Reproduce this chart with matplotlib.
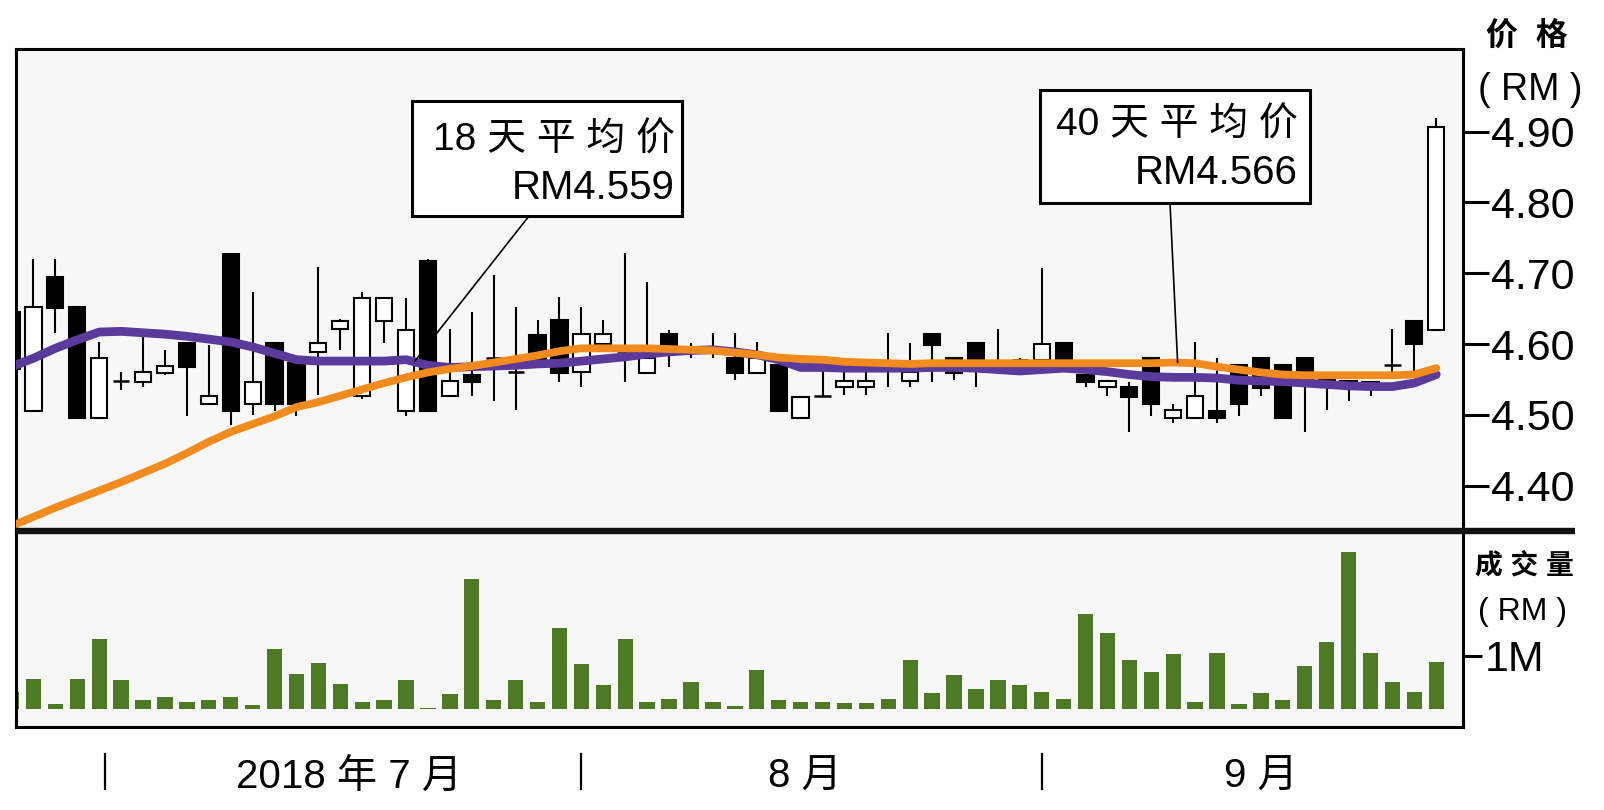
import matplotlib
matplotlib.use("Agg")
import matplotlib.pyplot as plt
from matplotlib.patches import Rectangle
from matplotlib.lines import Line2D

plt.rcParams['font.family'] = ['Liberation Sans', 'Noto Sans CJK SC', 'DejaVu Sans']

# ---------------- data ----------------
opens = [4.645, 4.505, 4.695, 4.653, 4.495, 4.548, 4.547, 4.559, 4.601, 4.516,
         4.727, 4.516, 4.601, 4.573, 4.589, 4.621, 4.526, 4.632, 4.505, 4.717,
         4.526, 4.556, 4.580, 4.560, 4.613, 4.634, 4.560, 4.600, 4.590, 4.559,
         4.614, 4.590, 4.595, 4.580, 4.559, 4.570, 4.495, 4.526, 4.540, 4.540,
         4.575, 4.548, 4.614, 4.580, 4.601, 4.575, 4.577, 4.578, 4.601, 4.556,
         4.539, 4.539, 4.580, 4.496, 4.496, 4.506, 4.570, 4.580, 4.570, 4.580,
         4.550, 4.548, 4.547, 4.570, 4.633, 4.620]
closes = [4.565, 4.653, 4.651, 4.495, 4.580, 4.548, 4.560, 4.569, 4.568, 4.526,
          4.505, 4.547, 4.516, 4.516, 4.601, 4.633, 4.665, 4.665, 4.620, 4.505,
          4.548, 4.547, 4.580, 4.560, 4.573, 4.559, 4.614, 4.614, 4.590, 4.580,
          4.595, 4.590, 4.595, 4.559, 4.580, 4.505, 4.525, 4.526, 4.548, 4.548,
          4.575, 4.560, 4.599, 4.559, 4.574, 4.575, 4.577, 4.600, 4.574, 4.547,
          4.548, 4.525, 4.516, 4.507, 4.526, 4.495, 4.516, 4.538, 4.495, 4.549,
          4.547, 4.546, 4.545, 4.570, 4.600, 4.907]
highs = [4.645, 4.720, 4.720, 4.653, 4.603, 4.561, 4.613, 4.592, 4.601, 4.599,
         4.727, 4.674, 4.601, 4.573, 4.709, 4.636, 4.674, 4.665, 4.665, 4.720,
         4.622, 4.646, 4.698, 4.653, 4.634, 4.667, 4.653, 4.634, 4.728, 4.688,
         4.620, 4.601, 4.615, 4.615, 4.603, 4.575, 4.525, 4.566, 4.560, 4.561,
         4.615, 4.601, 4.614, 4.580, 4.601, 4.622, 4.580, 4.708, 4.601, 4.556,
         4.548, 4.547, 4.582, 4.516, 4.603, 4.580, 4.570, 4.580, 4.570, 4.580,
         4.550, 4.548, 4.547, 4.622, 4.633, 4.919]
lows = [4.565, 4.505, 4.615, 4.495, 4.495, 4.535, 4.540, 4.557, 4.498, 4.516,
        4.486, 4.500, 4.505, 4.498, 4.528, 4.592, 4.523, 4.601, 4.498, 4.505,
        4.526, 4.526, 4.519, 4.507, 4.570, 4.547, 4.540, 4.590, 4.547, 4.559,
        4.568, 4.580, 4.580, 4.549, 4.559, 4.505, 4.495, 4.526, 4.528, 4.528,
        4.540, 4.540, 4.547, 4.549, 4.540, 4.573, 4.573, 4.575, 4.574, 4.540,
        4.526, 4.476, 4.498, 4.488, 4.496, 4.488, 4.498, 4.526, 4.495, 4.476,
        4.507, 4.519, 4.526, 4.556, 4.561, 4.620]

ma18 = [4.568, 4.580, 4.594, 4.606, 4.617, 4.618, 4.616, 4.614, 4.611, 4.607,
        4.603, 4.596, 4.587, 4.578, 4.576, 4.576, 4.576, 4.576, 4.578, 4.570,
        4.567, 4.568, 4.569, 4.570, 4.572, 4.573, 4.576, 4.579, 4.582, 4.586,
        4.589, 4.591, 4.592, 4.589, 4.585, 4.578, 4.567, 4.567, 4.566, 4.566,
        4.566, 4.566, 4.567, 4.567, 4.566, 4.564, 4.562, 4.564, 4.566, 4.564,
        4.561, 4.557, 4.554, 4.553, 4.553, 4.552, 4.549, 4.548, 4.547, 4.545,
        4.543, 4.541, 4.540, 4.540, 4.545, 4.557]
ma40 = [4.343, 4.356, 4.369, 4.381, 4.393, 4.405, 4.418, 4.431, 4.446, 4.462,
        4.476, 4.487, 4.498, 4.511, 4.518, 4.527, 4.536, 4.545, 4.553, 4.560,
        4.565, 4.569, 4.574, 4.579, 4.584, 4.590, 4.594, 4.594, 4.594, 4.594,
        4.593, 4.592, 4.591, 4.588, 4.585, 4.581, 4.579, 4.578, 4.575, 4.574,
        4.573, 4.572, 4.573, 4.573, 4.573, 4.573, 4.573, 4.573, 4.573, 4.573,
        4.573, 4.573, 4.573, 4.574, 4.573, 4.568, 4.564, 4.560, 4.557, 4.556,
        4.556, 4.556, 4.556, 4.556, 4.557, 4.566]

volume_m = [0.31, 0.57, 0.09, 0.56, 1.32, 0.55, 0.17, 0.22, 0.14, 0.17,
            0.22, 0.08, 1.12, 0.65, 0.87, 0.46, 0.14, 0.17, 0.55, 0.02,
            0.28, 2.44, 0.17, 0.55, 0.13, 1.52, 0.85, 0.45, 1.32, 0.14,
            0.19, 0.50, 0.14, 0.05, 0.73, 0.17, 0.14, 0.14, 0.11, 0.11,
            0.19, 0.91, 0.30, 0.63, 0.37, 0.55, 0.45, 0.32, 0.19, 1.78,
            1.43, 0.92, 0.69, 1.03, 0.14, 1.06, 0.09, 0.30, 0.17, 0.81,
            1.25, 2.94, 1.06, 0.51, 0.32, 0.88]

price_ticks = [4.40, 4.50, 4.60, 4.70, 4.80, 4.90]
price_tick_labels = ['4.40', '4.50', '4.60', '4.70', '4.80', '4.90']
volume_ticks = [1.0]
volume_tick_labels = ['1M']
month_labels = ['2018 年 7 月', '8 月', '9 月']
month_label_pos = [15.4, 36.2, 57.0]
month_sep_pos = [4.27, 26.0, 47.0]

ma18_label = ['18 天 平 均 价', 'RM4.559']
ma40_label = ['40 天 平 均 价', 'RM4.566']

# ---------------- figure ----------------
W, H = 1604, 810
fig = plt.figure(figsize=(W / 100, H / 100), dpi=100)
fig.patch.set_facecolor('white')

def fx(px):
    return px / W

def fy(py):
    return 1 - py / H

LEFT, RIGHT, TOP, MID, BOT = 16, 1463, 49, 531, 727
ax_p = fig.add_axes([fx(LEFT), fy(MID), fx(RIGHT - LEFT), (MID - TOP) / H])
ax_v = fig.add_axes([fx(LEFT), fy(BOT), fx(RIGHT - LEFT), (BOT - MID) / H])

bg = '#f7f7f7'
for ax in (ax_p, ax_v):
    ax.set_facecolor(bg)
    ax.set_xlim(0.205, 66.22)
    ax.set_xticks([])
    for s in ax.spines.values():
        s.set_linewidth(2.2)
        s.set_color('black')

n = len(opens)
idx = list(range(n))

# candles
bw = 0.74
ax_p.vlines(idx, lows, highs, color='black', lw=1.5, zorder=2)
for i in idx:
    o, c = opens[i], closes[i]
    if abs(c - o) < 1e-9:
        ax_p.hlines(o, i - bw / 2, i + bw / 2, color='black', lw=1.8, zorder=2.5)
    else:
        fc = 'black' if c < o else 'white'
        ax_p.add_patch(Rectangle((i - bw / 2, min(o, c)), bw, abs(c - o),
                                 facecolor=fc, edgecolor='black', lw=1.5, zorder=2.5))

ax_p.plot(idx, ma18, color='#5b3a9b', lw=6.3, zorder=3, solid_capstyle='round')
ax_p.plot(idx, ma40, color='#f28b1e', lw=5.6, zorder=4, solid_capstyle='round')

ax_p.set_ylim(4.336, 5.0168)
ax_p.yaxis.tick_right()
ax_p.set_yticks(price_ticks)
ax_p.set_yticklabels(price_tick_labels)
ax_p.tick_params(axis='y', length=19, width=2.2, pad=1, labelsize=31, direction='out')
ax_p.tick_params(axis='y', left=False)

# volume
ax_v.bar(idx, volume_m, width=0.7, color='#4e7a25', zorder=2)
ax_v.set_ylim(-0.338, 3.34)
ax_v.yaxis.tick_right()
ax_v.set_yticks(volume_ticks)
ax_v.set_yticklabels(volume_tick_labels)
ax_v.tick_params(axis='y', length=14, width=2.2, pad=2, labelsize=31, direction='out')
ax_v.tick_params(axis='y', left=False)

# thick separator extending to the right
fig.add_artist(Line2D([fx(LEFT), fx(1575)], [fy(MID), fy(MID)], color='#111111',
                      lw=4.6, solid_capstyle='butt'))

# right side headers
fig.text(fx(1527), fy(37), '价  格', ha='center', va='center', fontsize=23, fontweight='bold')
fig.text(fx(1530), fy(90), '( RM )', ha='center', va='center', fontsize=27)
fig.text(fx(1524), fy(567), '成 交 量', ha='center', va='center', fontsize=20, fontweight='bold')
fig.text(fx(1523), fy(612), '( RM )', ha='center', va='center', fontsize=23)

# annotation boxes
def box(x0, y0, x1, y1, lines, right, base1, base2, target, start):
    fig.add_artist(Rectangle((fx(x0), fy(y1)), fx(x1 - x0), (y1 - y0) / H,
                             facecolor='white', edgecolor='black', lw=2.2,
                             transform=fig.transFigure, zorder=5))
    fig.text(fx(right), fy(base1), lines[0], ha='right', va='baseline', fontsize=28, zorder=6)
    fig.text(fx(right), fy(base2), lines[1], ha='right', va='baseline', fontsize=29, zorder=6)
    ax_p.annotate('', xy=target, xycoords='data',
                  xytext=(fx(start[0]), fy(start[1])), textcoords='figure fraction',
                  arrowprops=dict(arrowstyle='-', lw=1.2, color='black',
                                  shrinkA=0, shrinkB=0), zorder=5)

box(412, 101, 682, 216, ma18_label, 675, 151, 199, (18.4, ma18[18] - 0.002), (529, 216))
box(1040, 90, 1310, 203, ma40_label, 1298, 136, 184, (53.2, ma40[53]), (1170, 203))

# bottom month labels and separators
for p in month_sep_pos:
    xpix = LEFT + (p - 0.205) / (66.22 - 0.205) * (RIGHT - LEFT)
    fig.add_artist(Line2D([fx(xpix), fx(xpix)], [fy(754), fy(789)], color='black', lw=1.6))
for lab, p in zip(month_labels, month_label_pos):
    xpix = LEFT + (p - 0.205) / (66.22 - 0.205) * (RIGHT - LEFT)
    fig.text(fx(xpix), fy(788), lab, ha='center', va='baseline', fontsize=29)

fig.savefig('out.png', dpi=100, facecolor='white')
